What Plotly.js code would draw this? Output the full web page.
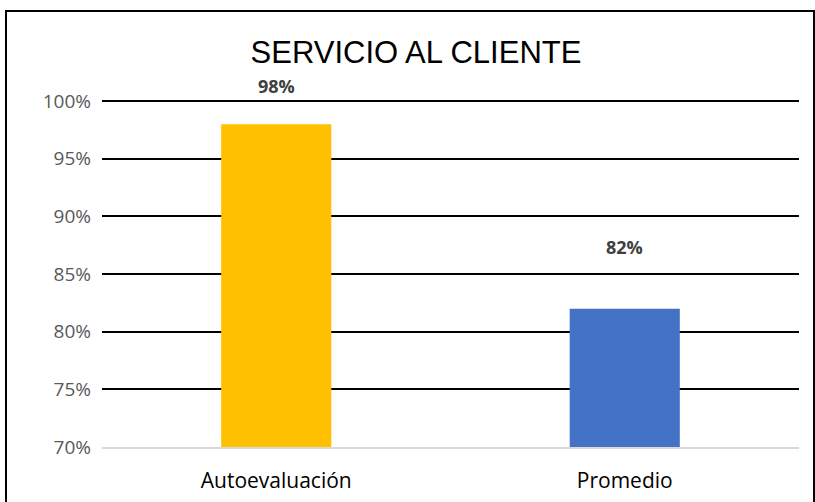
<!DOCTYPE html>
<html><head><meta charset="utf-8">
<script src="https://cdn.plot.ly/plotly-3.0.1.min.js"></script>
<style>
html,body{margin:0;padding:0;background:#fff;}
#wrap{position:relative;width:815px;height:502px;overflow:hidden;}
#chart{position:absolute;left:0;top:0;width:815px;height:502px;}
#border{position:absolute;left:5px;top:10px;width:806px;height:500px;border:2px solid #000;pointer-events:none;}
</style></head>
<body><div id="wrap"><div id="chart"></div><div id="border"></div></div>
<script>
const categories = ["Autoevaluación", "Promedio"];
const values = [98, 82];
const barColors = ["#FFC000", "#4472C4"];
const labelShift = [24, 48];
const yTicks = [70, 75, 80, 85, 90, 95, 100];
const yTickText = yTicks.map(v => v + "%");
const titleText = "SERVICIO AL CLIENTE";

const trace = {
  type: "bar", x: categories, y: values,
  marker: {color: barColors}, hoverinfo: "none"
};
const annotations = categories.map((c, i) => ({
  x: c, y: values[i], xref: "x", yref: "y", text: "<b>" + values[i] + "%</b>",
  showarrow: false, yanchor: "bottom", yshift: labelShift[i],
  font: {family: "Open Sans, Noto Sans, sans-serif", size: 18, color: "#404040"}
}));
const layout = {
  width: 815, height: 502,
  margin: {l: 102, r: 16, t: 100, b: 55},
  paper_bgcolor: "#fff", plot_bgcolor: "#fff",
  bargap: 0.684,
  showlegend: false,
  title: {text: titleText, x: 416/815, xanchor: "center", y: 1 - 52/502, yanchor: "middle", yref: "container", xref: "container",
    font: {family: "Liberation Sans, Arial, sans-serif", size: 31, color: "#000"}},
  xaxis: {showgrid: false, showline: true, linecolor: "#d9d9d9", linewidth: 2, ticks: "", ticklabelstandoff: 14,
    tickfont: {family: "Open Sans, Noto Sans, sans-serif", size: 21, color: "#000"}},
  yaxis: {range: [70, 100.1], tickvals: yTicks, ticktext: yTickText, showgrid: true, gridcolor: "#000", gridwidth: 2,
    zeroline: false, showline: false, ticks: "", ticklabelstandoff: 10,
    tickfont: {family: "Open Sans, Noto Sans, sans-serif", size: 19, color: "#595959"}},
  annotations: annotations
};
Plotly.newPlot("chart", [trace], layout, {displayModeBar: false, staticPlot: true});
</script></body></html>
